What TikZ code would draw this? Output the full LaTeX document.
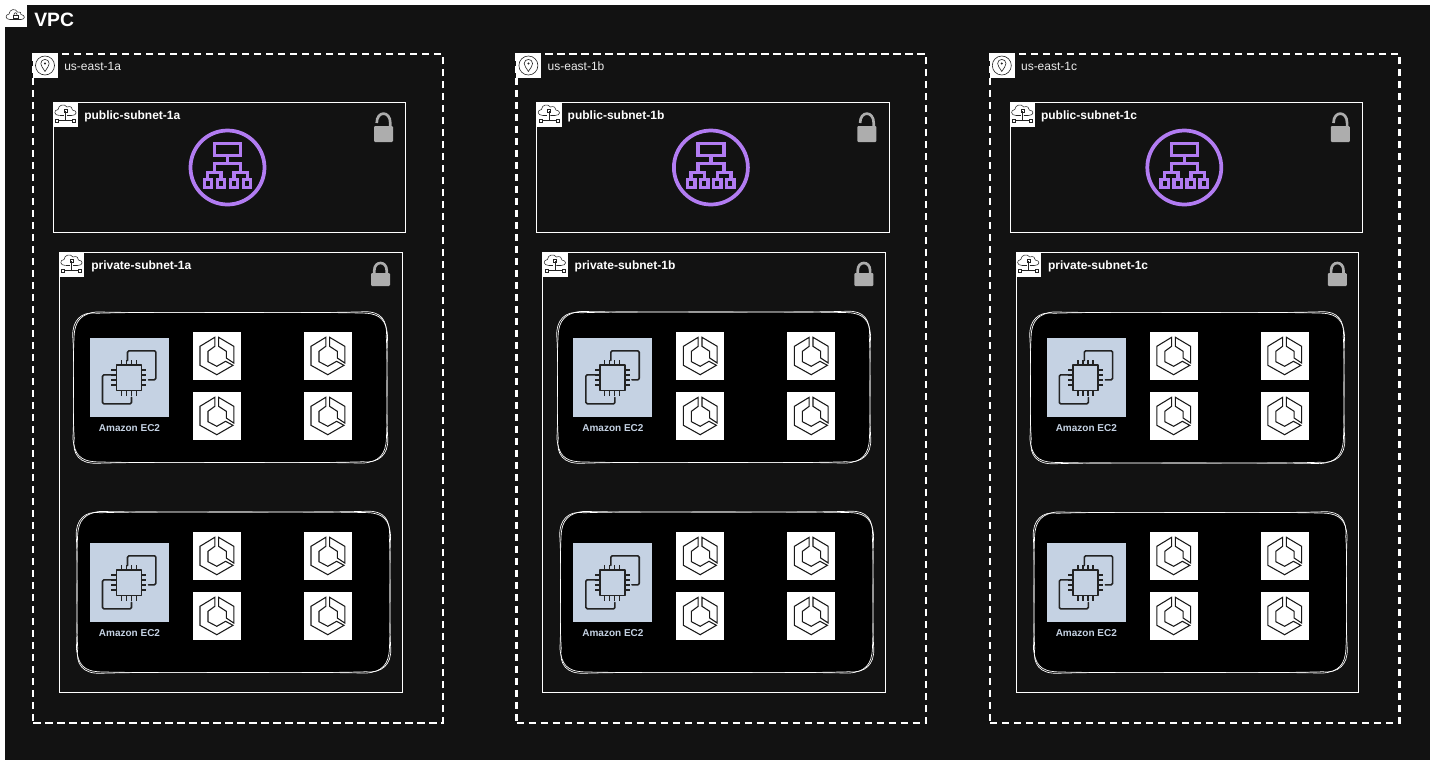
\documentclass[tikz,border=0pt]{standalone}
\usepackage{fontspec}
\setmainfont{Liberation Sans}
\definecolor{bgdark}{HTML}{121212}
\definecolor{albpurple}{HTML}{B27CF2}
\definecolor{ecblue}{HTML}{C5D2E3}
\definecolor{lockgrey}{HTML}{ADADAD}
\definecolor{icondark}{HTML}{232323}
\def\px{0.75pt}
\tikzset{
  azbox/.style={draw=white,dashed,dash pattern=on 5.5pt off 3.5pt,line width=1.8pt,inner sep=0,anchor=north west},
  subnetbox/.style={draw=white,line width=0.7pt,inner sep=0,anchor=north west},
  iconbox/.style={fill=white,inner sep=0,minimum width=25*\px,minimum height=25*\px,anchor=north west},
  ecsbox/.style={fill=white,inner sep=0,minimum width=48*\px,minimum height=48*\px},
  ec2box/.style={fill=ecblue,inner sep=0,minimum width=79*\px,minimum height=79*\px},
  titlelab/.style={text=white,font=\bfseries\fontsize{9}{11}\selectfont,anchor=west,inner sep=0},
  azlab/.style={text=white!92!black,font=\fontsize{9}{11}\selectfont,anchor=west,inner sep=0},
  ec2lab/.style={text=ecblue,font=\bfseries\fontsize{7.5}{9}\selectfont,inner sep=0},
  sketchline/.style={draw=white,line width=0.5pt},
  pics/ecsicon/.style={code={
    \draw[black!90,line width=0.8pt,line join=miter]
      (-2,-18.7) -- (-16.8,-9.7) -- (-16.8,9.3) -- (0,18.7) -- (16.2,9.3) -- (8.8,5.3)
      -- (0,10.3) -- (-8.8,5.7) -- (-8.8,-4.7) -- (-2,-9.7) -- cycle
      (1.8,-18.7) -- (17,-9.7) -- (17,7) -- (9.5,2) -- (9.5,-4.7) -- (1.8,-9.7) -- cycle;
  }},
  pics/ec2icon/.style={code={
    \draw[icondark,line width=1.2pt,line cap=round,line join=round,rounded corners=1pt]
      (-2,-17) -- (-2,-26.7) -- (26.3,-26.7) -- (26.3,2.3) -- (19,2.3)
      (-18,-2.7) -- (-27,-2.7) -- (-27,26.3) -- (2,26.3) -- (2,20);
    \draw[icondark,fill=ecblue,line width=1.2pt,line join=round] (-13.2,-12.7) rectangle (11.8,13);
    \foreach \t in {-7.5,-2.5,2.5,7.5}{
      \draw[icondark,line width=1pt] (\t-0.7,-12.7) -- (\t-0.7,-17.7) (\t-0.7,13) -- (\t-0.7,18);
      \draw[icondark,line width=1pt] (-13.2,\t+0.15) -- (-18.2,\t+0.15) (11.8,\t+0.15) -- (16.8,\t+0.15);
    }
  }},
  pics/albicon/.style={code={
    \draw[albpurple,line width=2.8pt] (0,0) circle[radius=37*\px];
    \draw[albpurple,line width=2.6pt,line join=miter]
      (-13,-24) rectangle (13,-12)
      (0,-12) -- (0,-4)
      (-13,5) -- (-13,-4) -- (13,-4) -- (13,5)
      (-20,12) -- (-20,5) -- (-6.5,5) -- (-6.5,12)
      (6.5,12) -- (6.5,5) -- (20,5) -- (20,12);
    \foreach \t in {-19.5,-6.5,6.5,19.5}
      \draw[albpurple,line width=2.6pt] (\t-3.7,12) rectangle (\t+3.7,20);
  }},
  pics/lockopen/.style={code={
    \fill[lockgrey,rounded corners=0.8pt] (-9.5,0) rectangle (9.5,16);
    \draw[lockgrey,line width=2pt] (-6.8,-3) .. controls (-6.8,-15.5) and (6.8,-15.5) .. (6.8,-3) -- (6.8,0);
  }},
  pics/lockclosed/.style={code={
    \fill[lockgrey,rounded corners=0.8pt] (-9.5,0) rectangle (9.5,13);
    \draw[lockgrey,line width=2pt] (-6.2,0) -- (-6.2,-2.5) .. controls (-6.2,-12.5) and (6.2,-12.5) .. (6.2,-2.5) -- (6.2,0);
  }},
  pics/subneticon/.style={code={
    \draw[icondark,line width=0.4pt,line join=round]
      (-6,1.5) .. controls (-12,1.5) and (-12,-4) .. (-7.5,-4.5)
      .. controls (-7,-9.5) and (-1,-10.5) .. (1.5,-7)
      .. controls (5,-8.5) and (7.5,-6) .. (7,-4)
      .. controls (12,-3.5) and (12,1.5) .. (6,1.5) -- (1.5,1.5);
    \draw[icondark,line width=0.4pt] (-6,1.5) -- (-1.5,1.5) (0,-3) -- (0,6.5)
      (-7,6.5) -- (7,6.5)
      (-10,5) rectangle (-7,8) (7,5) rectangle (10,8) (-1.5,-4.5) rectangle (1.5,-1.5);
  }},
  pics/pinicon/.style={code={
    \draw[icondark,line width=0.45pt] (0,0) circle[radius=9.5*\px];
    \draw[icondark,line width=0.45pt,line join=round]
      (0,6) .. controls (-2,2.5) and (-4.2,0.5) .. (-4.2,-2)
      .. controls (-4.2,-7.4) and (4.2,-7.4) .. (4.2,-2)
      .. controls (4.2,0.5) and (2,2.5) .. (0,6) -- cycle;
    \fill[icondark] (0,-2) circle[radius=1.1*\px];
  }},
  pics/vpcicon/.style={code={
    \draw[icondark,line width=0.4pt,line join=round]
      (-5.5,4) .. controls (-10.5,4) and (-10.5,-1) .. (-6.5,-1.5)
      .. controls (-6,-6.5) and (0,-7.5) .. (2,-3.5)
      .. controls (4.5,-4.5) and (6,-2.5) .. (5.5,-1)
      .. controls (10,-0.5) and (10,4) .. (5.5,4) -- cycle;
    \draw[icondark,line width=0.4pt] (-2.5,-0.5) rectangle (2.5,2.8);
    \draw[icondark,line width=0.4pt] (-1.6,-0.5) .. controls (-1.6,-3.5) and (1.6,-3.5) .. (1.6,-0.5);
  }}
}
% x1 y1 x2 y2 wobble
\newcommand{\sketchstroke}[5]{%
  \draw[sketchline]
    (#1+23,#2+0.5*#5) .. controls (#1+100,#2-#5) and (#3-100,#2+#5) .. (#3-23,#2-0.5*#5)
    .. controls (#3-6,#2-#5) and (#3+0.5*#5,#2+8) .. (#3-0.5*#5,#2+24)
    .. controls (#3+#5,#2+60) and (#3-#5,#4-60) .. (#3+0.5*#5,#4-24)
    .. controls (#3+#5,#4-8) and (#3-8,#4+0.5*#5) .. (#3-24,#4-0.5*#5)
    .. controls (#3-100,#4+#5) and (#1+100,#4-#5) .. (#1+24,#4+0.5*#5)
    .. controls (#1+6,#4+#5) and (#1-#5,#4-8) .. (#1+0.5*#5,#4-24)
    .. controls (#1-#5,#4-60) and (#1+#5,#2+60) .. (#1-0.5*#5,#2+24)
    .. controls (#1-#5,#2+8) and (#1+8,#2-#5) .. (#1+23,#2+0.5*#5);
}
\newcommand{\sketchgroup}[5]{%
  \node[fill=black,rounded corners=18pt,inner sep=0,anchor=north west,
        minimum width={(#3-#1)*\px},minimum height={(#4-#2)*\px}] (#5) at (#1,#2) {};
  \sketchstroke{#1}{#2}{#3}{#4}{1.5}
  \sketchstroke{#1}{#2}{#3}{#4}{-1.2}
}
% instance group: column offset, top of EC2 box, ecs top y, name
\newcommand{\instances}[4]{%
  \node[ec2box] (#4ec2) at (129.5+#1,#2+39.5) {};
  \pic at (129.5+#1,#2+39.5) {ec2icon};
  \node[ec2lab] (#4ec2lab) at (129.5+#1,#2+90) {Amazon EC2};
  \foreach \ex/\en in {216.8/l,327.8/r}{
    \foreach \ey/\em in {24/t,84/b}{
      \node[ecsbox] (#4\en\em) at (\ex+#1,#3+\ey) {};
      \pic at (\ex+#1,#3+\ey) {ecsicon};
    }
  }
}
\begin{document}
\begin{tikzpicture}[x=0.75pt,y=-0.75pt]
\useasboundingbox (0,0) rectangle (1435,765);
\fill[white] (0,0) rectangle (1435,765);
\node[fill=bgdark,inner sep=0,anchor=north west,minimum width=1425*\px,minimum height=755*\px] (vpc) at (5,5) {};
\node[fill=white,inner sep=0,anchor=north west,minimum width=22*\px,minimum height=22*\px] (vpcicon) at (5,5) {};
\pic at (15.5,15.5) {vpcicon};
\node[text=white,font=\bfseries\fontsize{14.5}{16}\selectfont,anchor=west,inner sep=0] (vpclab) at (34,20.3) {VPC};

\foreach \o/\so in {0/1a,483.4/1b,956.8/1c}{
  \node[azbox,minimum width=409.5*\px,minimum height=669*\px] (az\so) at (32+\o,52.6) {};
  \node[iconbox] (azicon\so) at (32.5+\o,53) {};
  \pic at (45+\o,65.5) {pinicon};
  \node[azlab] (azlab\so) at (64+\o,66) {us-east-\so};
  % public subnet
  \node[subnetbox,minimum width=352.5*\px,minimum height=130*\px] (pub\so) at (52.7+\o,102.3) {};
  \node[iconbox] (pubicon\so) at (53+\o,102) {};
  \pic at (65.5+\o,114) {subneticon};
  \node[titlelab] (publab\so) at (84+\o,116.8) {public-subnet-\so};
  \pic at (383.5+\o,126) {lockopen};
  \pic at (227.5+\o,167.5) {albicon};
  % private subnet
  \node[subnetbox,minimum width=342.5*\px,minimum height=440*\px] (prv\so) at (59+\o,252.3) {};
  \node[iconbox] (prvicon\so) at (59+\o,252) {};
  \pic at (71.5+\o,264) {subneticon};
  \node[titlelab] (prvlab\so) at (91+\o,266.8) {private-subnet-\so};
  \pic at (380.5+\o,273) {lockclosed};
}
\sketchgroup{73.5}{312.5}{387}{462.5}{g1au}
\sketchgroup{77}{512}{390}{672.5}{g1al}
\sketchgroup{557.5}{312}{870}{462.5}{g1bu}
\sketchgroup{560.5}{512}{873}{672.5}{g1bl}
\sketchgroup{1030.5}{312.5}{1344}{463}{g1cu}
\sketchgroup{1034}{512.5}{1346.5}{672.5}{g1cl}
\foreach \o/\so in {0/a,483.4/b,956.8/c}{
  \instances{\o}{338}{332}{i\so u}
  \instances{\o}{543}{532}{i\so l}
}
\end{tikzpicture}
\end{document}
